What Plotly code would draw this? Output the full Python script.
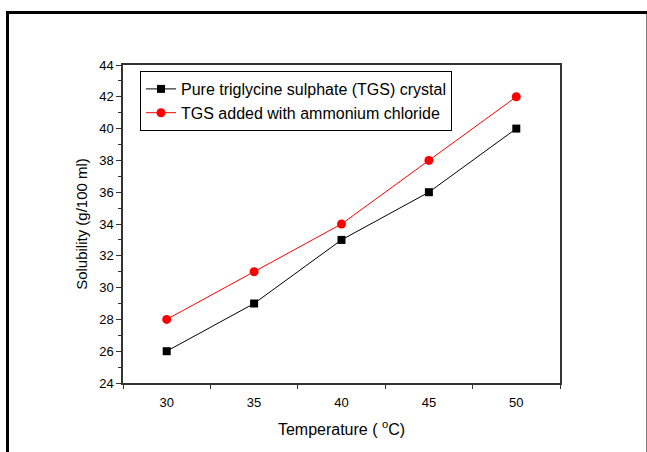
import plotly.graph_objects as go

temperature = [30, 35, 40, 45, 50]
pure_tgs = [26, 29, 33, 36, 40]
tgs_nh4cl = [28, 31, 34, 38, 42]
x_ticks = [30, 35, 40, 45, 50]
x_minor_ticks = [27.5, 32.5, 37.5, 42.5, 47.5, 52.5]
y_ticks = [24, 26, 28, 30, 32, 34, 36, 38, 40, 42, 44]

W, H = 647, 452
L, R, T, B = 123, 87, 65, 69
pw, ph = W - L - R, H - T - B

def px_x(p):
    return (p - L) / pw

def px_y(p):
    return (H - B - p) / ph

font = "Arial, Liberation Sans, sans-serif"

fig = go.Figure()
fig.add_trace(go.Scatter(
    x=temperature, y=pure_tgs, mode="lines+markers",
    name="Pure triglycine sulphate (TGS) crystal",
    line=dict(color="black", width=1),
    marker=dict(symbol="square", size=8, color="black"),
))
fig.add_trace(go.Scatter(
    x=temperature, y=tgs_nh4cl, mode="lines+markers",
    name="TGS added with ammonium chloride",
    line=dict(color="red", width=1),
    marker=dict(symbol="circle", size=9, color="red"),
))

axis_common = dict(
    showline=True, mirror=True, linecolor="#333333", linewidth=1.5,
    showgrid=False, zeroline=False,
    tickfont=dict(family=font, size=13, color="black"),
)

fig.update_xaxes(
    range=[27.5, 52.5], tickvals=x_ticks, ticks="",
    ticklabelstandoff=7,
    minor=dict(tickvals=x_minor_ticks, ticks="outside", ticklen=4,
               tickcolor="#333333", tickwidth=1, showgrid=False),
    title=dict(text="Temperature ( <sup>o</sup>C)",
               font=dict(family=font, size=16, color="black"), standoff=14),
    **axis_common,
)
fig.update_yaxes(
    range=[24, 44], tickvals=y_ticks, ticks="outside", ticklen=5,
    tickcolor="#333333", tickwidth=1,
    minor=dict(dtick=1, tick0=24, ticks="outside", ticklen=3,
               tickcolor="#333333", tickwidth=1, showgrid=False),
    title=dict(text="Solubility (g/100 ml)",
               font=dict(family=font, size=15, color="black"), standoff=8),
    **axis_common,
)

fig.add_shape(
    type="rect", xref="paper", yref="paper",
    x0=px_x(7.5), x1=px_x(648), y0=px_y(470), y1=px_y(12.5),
    line=dict(color="black", width=3), layer="above",
)

fig.update_layout(
    width=W, height=H,
    margin=dict(l=L, r=R, t=T, b=B),
    paper_bgcolor="white", plot_bgcolor="white",
    showlegend=True,
    legend=dict(
        x=px_x(140), y=px_y(71), xanchor="left", yanchor="top",
        bgcolor="white", bordercolor="black", borderwidth=1,
        font=dict(family=font, size=16, color="black"),
        tracegroupgap=0, itemwidth=30,
    ),
)

fig.write_html("out.html")
